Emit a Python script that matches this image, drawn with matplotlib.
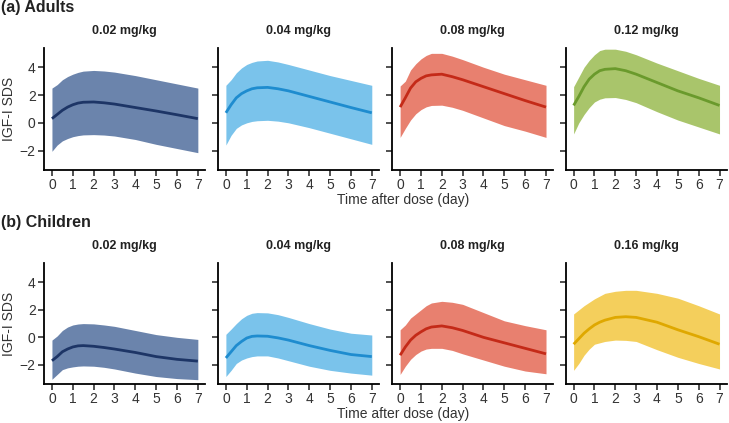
import numpy as np
import matplotlib
matplotlib.use("Agg")
import matplotlib.pyplot as plt

plt.rcParams['font.family'] = ['Liberation Sans', 'DejaVu Sans']

# time points (day)
t = [0, 0.25, 0.5, 0.75, 1, 1.25, 1.5, 2, 2.5, 3, 4, 5, 6, 7]

# Adults
a002_mean = [0.3, 0.6, 0.9, 1.13, 1.3, 1.42, 1.48, 1.5, 1.44, 1.35, 1.1, 0.85, 0.58, 0.3]
a002_hi = [2.5, 2.75, 3.1, 3.33, 3.5, 3.63, 3.72, 3.77, 3.73, 3.65, 3.4, 3.1, 2.8, 2.5]
a002_lo = [-2.05, -1.6, -1.3, -1.13, -1.0, -0.92, -0.87, -0.85, -0.88, -0.95, -1.2, -1.55, -1.85, -2.15]

a004_mean = [0.72, 1.3, 1.8, 2.1, 2.3, 2.45, 2.52, 2.55, 2.45, 2.3, 1.9, 1.5, 1.1, 0.72]
a004_hi = [2.7, 3.1, 3.6, 3.95, 4.2, 4.35, 4.45, 4.5, 4.38, 4.2, 3.8, 3.4, 3.05, 2.7]
a004_lo = [-1.6, -0.9, -0.4, -0.15, 0.0, 0.1, 0.15, 0.18, 0.12, 0.0, -0.35, -0.75, -1.15, -1.55]

a008_mean = [1.13, 1.8, 2.5, 2.95, 3.2, 3.38, 3.45, 3.5, 3.32, 3.1, 2.6, 2.1, 1.6, 1.13]
a008_hi = [2.65, 3.0, 3.8, 4.25, 4.6, 4.85, 5.0, 5.0, 4.8, 4.55, 4.0, 3.5, 3.1, 2.7]
a008_lo = [-1.05, -0.4, 0.2, 0.65, 0.95, 1.15, 1.25, 1.27, 1.12, 0.9, 0.35, -0.2, -0.6, -1.05]

a012_mean = [1.25, 1.9, 2.6, 3.15, 3.5, 3.75, 3.85, 3.9, 3.75, 3.5, 2.9, 2.3, 1.8, 1.25]
a012_hi = [2.6, 3.3, 4.0, 4.5, 4.9, 5.2, 5.3, 5.3, 5.15, 4.9, 4.3, 3.75, 3.2, 2.7]
a012_lo = [-0.8, 0.0, 0.6, 1.1, 1.5, 1.7, 1.8, 1.82, 1.68, 1.45, 0.8, 0.2, -0.3, -0.8]

# Children
c002_mean = [-1.7, -1.4, -1.05, -0.85, -0.7, -0.62, -0.6, -0.65, -0.74, -0.85, -1.1, -1.4, -1.6, -1.73]
c002_hi = [-0.2, 0.1, 0.5, 0.75, 0.9, 0.97, 1.0, 0.98, 0.9, 0.8, 0.5, 0.2, 0.0, -0.15]
c002_lo = [-3.05, -2.7, -2.35, -2.22, -2.15, -2.1, -2.08, -2.1, -2.18, -2.3, -2.6, -2.85, -3.0, -3.08]

c004_mean = [-1.5, -1.05, -0.6, -0.3, -0.05, 0.07, 0.1, 0.08, -0.04, -0.2, -0.6, -0.95, -1.25, -1.4]
c004_hi = [0.22, 0.6, 1.0, 1.35, 1.6, 1.75, 1.8, 1.78, 1.65, 1.45, 1.0, 0.6, 0.3, 0.17]
c004_lo = [-2.85, -2.4, -1.9, -1.65, -1.5, -1.4, -1.35, -1.35, -1.5, -1.7, -2.1, -2.4, -2.6, -2.75]

c008_mean = [-1.3, -0.7, -0.2, 0.15, 0.4, 0.62, 0.75, 0.83, 0.7, 0.5, 0.0, -0.4, -0.8, -1.2]
c008_hi = [0.55, 0.9, 1.4, 1.7, 2.0, 2.3, 2.5, 2.62, 2.55, 2.4, 1.8, 1.2, 0.85, 0.55]
c008_lo = [-2.7, -2.1, -1.6, -1.25, -1.0, -0.85, -0.8, -0.8, -0.95, -1.2, -1.65, -2.1, -2.45, -2.65]

c016_mean = [-0.5, -0.1, 0.3, 0.62, 0.9, 1.1, 1.25, 1.45, 1.5, 1.45, 1.1, 0.55, 0.05, -0.5]
c016_hi = [1.7, 2.0, 2.3, 2.55, 2.8, 3.0, 3.2, 3.35, 3.42, 3.42, 3.2, 2.85, 2.3, 1.7]
c016_lo = [-2.4, -1.9, -1.3, -0.85, -0.5, -0.4, -0.3, -0.2, -0.22, -0.3, -0.9, -1.45, -1.9, -2.3]

adult_doses = ["0.02 mg/kg", "0.04 mg/kg", "0.08 mg/kg", "0.12 mg/kg"]
child_doses = ["0.02 mg/kg", "0.04 mg/kg", "0.08 mg/kg", "0.16 mg/kg"]

adults = [(a002_mean, a002_lo, a002_hi), (a004_mean, a004_lo, a004_hi),
          (a008_mean, a008_lo, a008_hi), (a012_mean, a012_lo, a012_hi)]
children = [(c002_mean, c002_lo, c002_hi), (c004_mean, c004_lo, c004_hi),
            (c008_mean, c008_lo, c008_hi), (c016_mean, c016_lo, c016_hi)]

# colours per dose (fill, line)
navy = ("#6b84ac", "#1d3566")
blue = ("#7ac3eb", "#1e8ccf")
red = ("#e8806f", "#c42a18")
green = ("#a9c56b", "#6a9a2c")
yellow = ("#f4cf5c", "#dfa800")
adult_cols = [navy, blue, red, green]
child_cols = [navy, blue, red, yellow]

fig = plt.figure(figsize=(7.29, 4.23), dpi=100)

lefts = [0.0604, 0.299, 0.538, 0.776]
w = 0.221
rows = [(0.598, 0.289, adults, adult_doses, adult_cols),
        (0.092, 0.286, children, child_doses, child_cols)]

for bottom, h, groups, doses, cols in rows:
    for i, (left, (m, lo, hi), dose, (fc, lc)) in enumerate(zip(lefts, groups, doses, cols)):
        ax = fig.add_axes([left, bottom, w, h])
        ax.fill_between(t, lo, hi, color=fc, linewidth=0)
        ax.plot(t, m, color=lc, lw=2, solid_capstyle='butt')
        ax.set_xlim(-0.38, 7.35)
        ax.set_ylim(-3.4, 5.4)
        ax.set_xticks(range(8))
        ax.set_yticks([-2, 0, 2, 4])
        ax.spines['top'].set_visible(False)
        ax.spines['right'].set_visible(False)
        ax.spines['left'].set_linewidth(1.3)
        ax.spines['bottom'].set_linewidth(1.3)
        ax.tick_params(labelsize=10, length=4, width=1.1, color='#222222',
                       labelcolor='#333333', pad=2)
        ax.set_yticklabels(['\u22122', '0', '2', '4'])
        if i > 0:
            ax.tick_params(labelleft=False)
        else:
            ax.set_ylabel("IGF-I SDS", fontsize=10, color='#333333', labelpad=3)
        ax.set_title(dose, fontsize=9, fontweight='bold', color='#222222', pad=10)

fig.text(0.553, 0.527, "Time after dose (day)", fontsize=10, color='#333333', ha='center', va='center')
fig.text(0.553, 0.021, "Time after dose (day)", fontsize=10, color='#333333', ha='center', va='center')
fig.text(0.002, 0.983, "(a) Adults", fontsize=11.5, fontweight='bold', color='#222222', va='center')
fig.text(0.002, 0.475, "(b) Children", fontsize=11.5, fontweight='bold', color='#222222', va='center')

fig.savefig("out.png", dpi=100)
